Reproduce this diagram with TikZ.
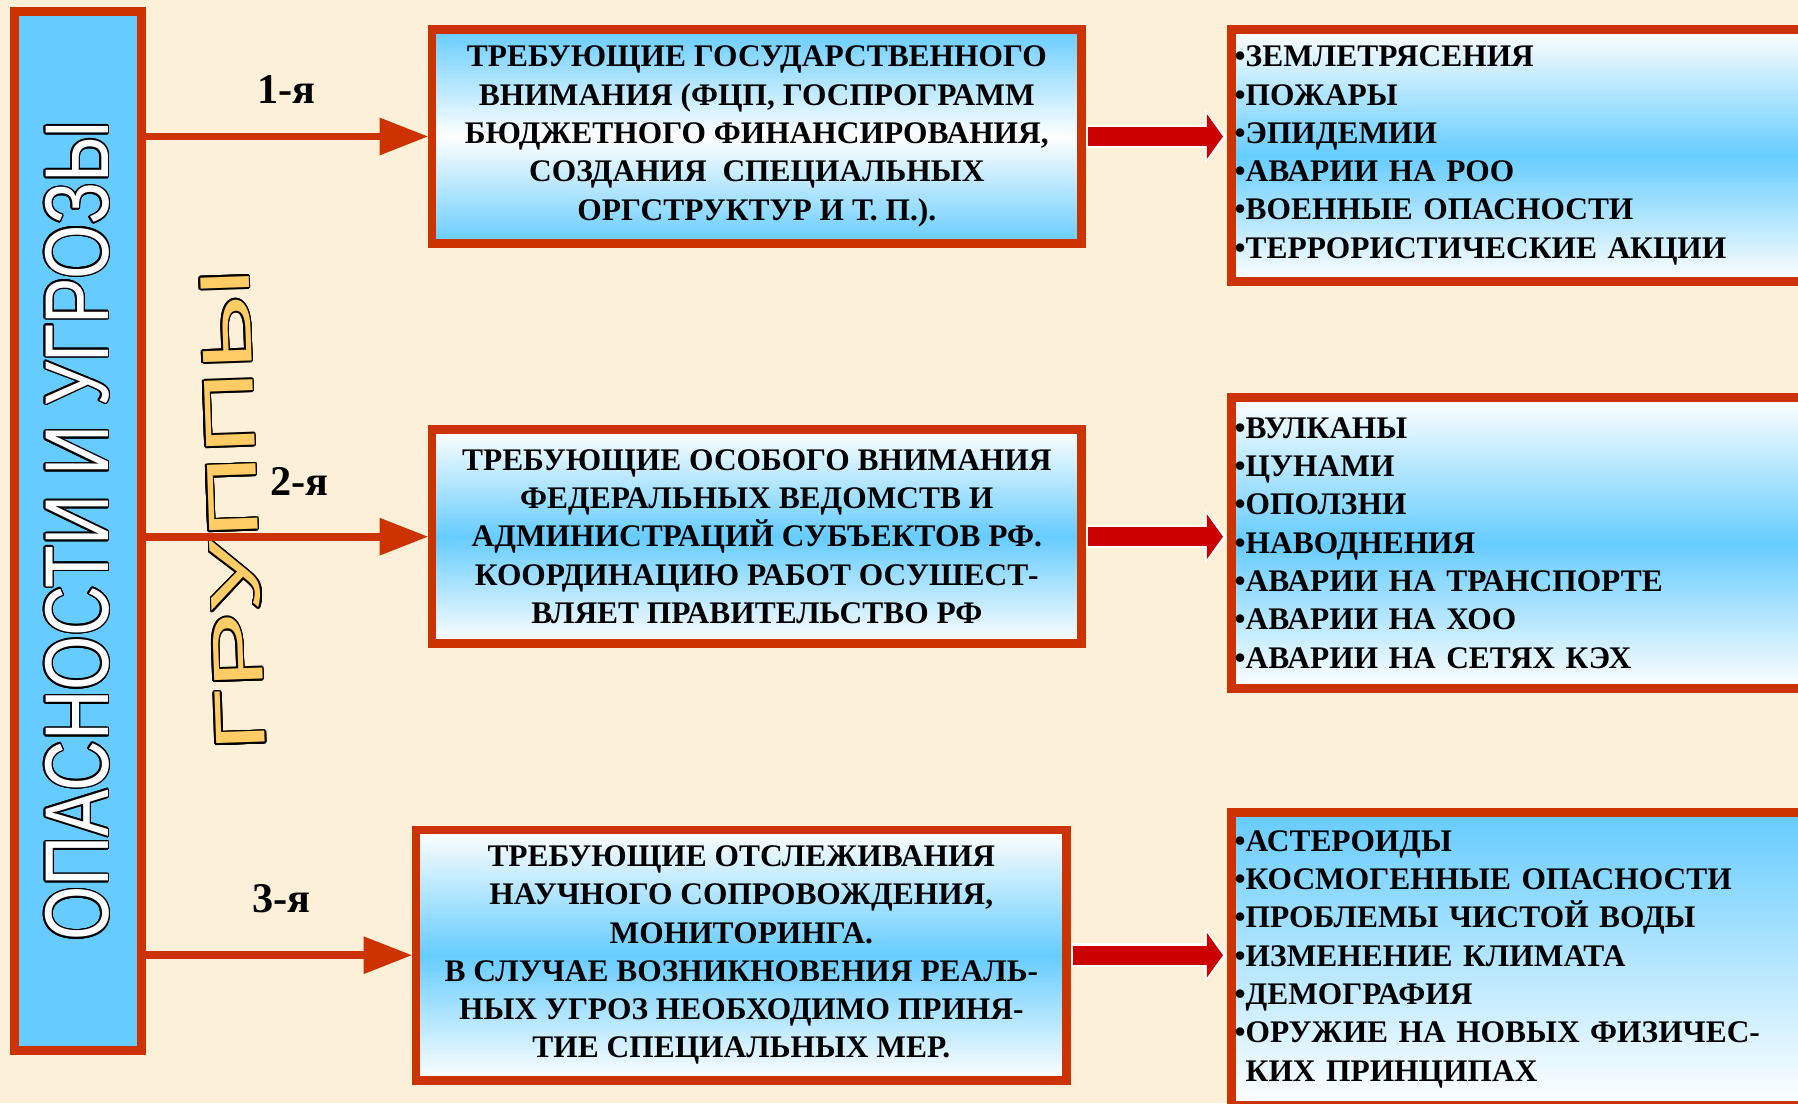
\documentclass[tikz,border=0pt]{standalone}
\usepackage{fontspec}
\setmainfont{Liberation Serif}
\newfontfamily\barfont[FakeStretch=0.77]{Liberation Sans}
\newfontfamily\grpfont[FakeStretch=1.66]{Liberation Sans}
\usepackage[copies]{contour}
\contourlength{0.4pt}
\usetikzlibrary{arrows.meta}
\definecolor{paper}{RGB}{252,240,216}
\definecolor{sky}{RGB}{102,204,255}
\definecolor{brick}{RGB}{204,51,0}
\definecolor{wine}{RGB}{204,0,0}
\definecolor{gold}{RGB}{255,204,102}

\begin{document}
\begin{tikzpicture}[x=0.1mm, y=0.1mm]
\tikzstyle{every node}+=[inner sep=0pt]
\tikzstyle{frame}=[draw=brick, line width=0.75mm]
\tikzstyle{boxfont}=[font=\fontsize{7.8}{9.5}\selectfont\bfseries]
\tikzstyle{midbox}=[frame, boxfont, align=center, minimum width=56.65mm, minimum height=18.65mm]
\tikzstyle{listbox}=[frame, boxfont, align=left, text width=52.65mm, inner xsep=0.3mm]
\tikzstyle{glow}=[top color=white, bottom color=white, middle color=sky]
\tikzstyle{grpnum}=[font=\fontsize{10.5}{12}\selectfont\bfseries]
\tikzstyle{grparrow}=[draw=brick, line width=0.67mm, -{Triangle[length=4.2mm,width=3.3mm,line width=0pt]}]
\tikzstyle{flowout}=[draw=white, line width=2.06mm, -{Triangle[length=1.9mm,width=4.6mm,line width=0pt]}]
\tikzstyle{flow}=[draw=wine, line width=1.66mm, shorten <=0.2mm, shorten >=0.35mm, -{Triangle[length=1.4mm,width=3.9mm,line width=0pt]}]
\useasboundingbox (0,0) rectangle (1568,-962);
\clip (0,0) rectangle (1568,-962);
\fill [paper] (0,0) rectangle (1568,-962);
% left column
\node [frame, fill=sky, rotate=90, minimum width=90.65mm, minimum height=11.05mm, text=white, font=\barfont\fontsize{22.5}{27}\selectfont] (bar) at (68,-463) {\contour{black}{ОПАСНОСТИ И УГРОЗЫ}};
\node [rotate=92, text=gold, font=\grpfont\fontsize{17.5}{20}\selectfont] (grp) at (204,-445) {\contour{black}{ГРУППЫ}};
\node [grpnum] (n1) at (250,-78) {1-я};
\node [grpnum] (n2) at (261,-420) {2-я};
\node [grpnum] (n3) at (245.5,-784) {3-я};
% middle column
\node [midbox, top color=sky, bottom color=sky, middle color=white] (m1) at (660,-119) {ТРЕБУЮЩИЕ ГОСУДАРСТВЕННОГО\\ВНИМАНИЯ (ФЦП, ГОСПРОГРАММ\\БЮДЖЕТНОГО ФИНАНСИРОВАНИЯ,\\СОЗДАНИЯ \ СПЕЦИАЛЬНЫХ\\ОРГСТРУКТУР И Т. П.).};
\node [midbox, glow] (m2) at (660,-468) {ТРЕБУЮЩИЕ ОСОБОГО ВНИМАНИЯ\\ФЕДЕРАЛЬНЫХ ВЕДОМСТВ И\\АДМИНИСТРАЦИЙ СУБЪЕКТОВ РФ.\\КООРДИНАЦИЮ РАБОТ ОСУШЕСТ-\\ВЛЯЕТ ПРАВИТЕЛЬСТВО РФ};
\node [midbox, glow, minimum width=56.75mm, minimum height=21.85mm] (m3) at (646.5,-833) {ТРЕБУЮЩИЕ ОТСЛЕЖИВАНИЯ\\НАУЧНОГО СОПРОВОЖДЕНИЯ,\\МОНИТОРИНГА.\\В СЛУЧАЕ ВОЗНИКНОВЕНИЯ РЕАЛЬ-\\НЫХ УГРОЗ НЕОБХОДИМО ПРИНЯ-\\ТИЕ СПЕЦИАЛЬНЫХ МЕР.};
% right column
\node [listbox, glow, minimum height=21.95mm] (r1) at (1340,-135.5) {•ЗЕМЛЕТРЯСЕНИЯ\\•ПОЖАРЫ\\•ЭПИДЕМИИ\\•АВАРИИ НА РОО\\•ВОЕННЫЕ ОПАСНОСТИ\\•ТЕРРОРИСТИЧЕСКИЕ АКЦИИ};
\node [listbox, glow, minimum height=25.35mm] (r2) at (1340,-473.5) {•ВУЛКАНЫ\\•ЦУНАМИ\\•ОПОЛЗНИ\\•НАВОДНЕНИЯ\\•АВАРИИ НА ТРАНСПОРТЕ\\•АВАРИИ НА ХОО\\•АВАРИИ НА СЕТЯХ КЭХ};
\node [listbox, top color=sky, bottom color=white, minimum height=25.55mm] (r3) at (1340,-836.5) {•АСТЕРОИДЫ\\•КОСМОГЕННЫЕ ОПАСНОСТИ\\•ПРОБЛЕМЫ ЧИСТОЙ ВОДЫ\\•ИЗМЕНЕНИЕ КЛИМАТА\\•ДЕМОГРАФИЯ\\•ОРУЖИЕ НА НОВЫХ ФИЗИЧЕС-\\\phantom{•}КИХ ПРИНЦИПАХ};
% arrows
\draw [grparrow] (bar.south |- m1.west) -- (m1.west);
\draw [grparrow] (bar.south |- m2.west) -- (m2.west);
\draw [grparrow] (bar.south |- m3.west) -- (m3.west);
\draw [flowout] (m1.east) -- (m1.east -| r1.west);
\draw [flow] (m1.east) -- (m1.east -| r1.west);
\draw [flowout] (m2.east) -- (m2.east -| r2.west);
\draw [flow] (m2.east) -- (m2.east -| r2.west);
\draw [flowout] (m3.east) -- (m3.east -| r3.west);
\draw [flow] (m3.east) -- (m3.east -| r3.west);
\end{tikzpicture}
\end{document}
